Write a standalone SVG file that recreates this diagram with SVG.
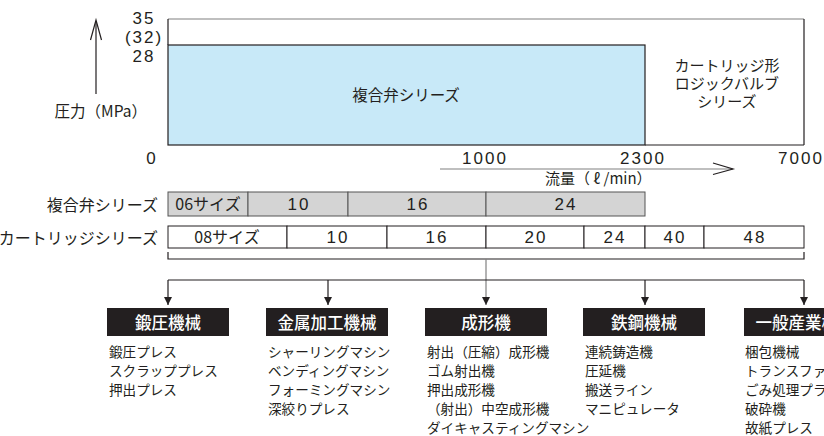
<svg xmlns="http://www.w3.org/2000/svg" width="824" height="436" viewBox="0 0 824 436">
<style>
text{font-family:"Noto Sans CJK JP","Liberation Sans",sans-serif;fill:#231f20}
.num{font-family:"Liberation Sans",Arial,sans-serif;font-size:17px;letter-spacing:2px;text-anchor:middle}
.lab{font-size:15.5px}
.cell{font-size:16px;text-anchor:middle}
.cellnum{font-family:"Liberation Sans",Arial,sans-serif;font-size:17px;letter-spacing:2px;text-anchor:middle}
.cat{font-size:16.5px;fill:#ffffff;text-anchor:middle;font-weight:500}
.item{font-size:13.6px}
.ln{stroke:#231f20;stroke-width:1.2;fill:none}
.gln{stroke:#808080;stroke-width:1.2;fill:none}
.box{fill:#231f20}
.g{fill:#d4d4d4;stroke:#555;stroke-width:1}
.w{fill:#ffffff;stroke:#231f20;stroke-width:1}
</style>
<defs>
<marker id="tri" viewBox="0 0 10 10" refX="10" refY="5" markerWidth="8" markerHeight="8" markerUnits="userSpaceOnUse" orient="auto">
<path d="M0,0 L10,5 L0,10 Z" fill="#231f20"/>
</marker>
</defs>

<g id="chart">
<rect x="168" y="19" width="636" height="126" fill="#ffffff" stroke="none"/>
<line x1="168" y1="19" x2="804" y2="19" class="gln"/>
<line x1="804" y1="19" x2="804" y2="145" class="ln"/>
<line x1="645" y1="145" x2="804" y2="145" class="ln"/>
<line x1="168" y1="19" x2="168" y2="45" class="ln"/>
<rect x="168" y="45" width="477" height="100" fill="#c8e9f8" stroke="#231f20" stroke-width="1.2"/>
<text x="406" y="101" class="lab" text-anchor="middle" font-size="16">複合弁シリーズ</text>
<text x="727" y="71" text-anchor="middle" font-size="15">カートリッジ形</text>
<text x="727" y="89" text-anchor="middle" font-size="15">ロジックバルブ</text>
<text x="727" y="107" text-anchor="middle" font-size="15">シリーズ</text>
</g>

<g id="y-axis">
<line x1="96" y1="94" x2="96" y2="21" class="ln"/>
<polyline points="90.5,40 96,20 101.5,40" class="ln"/>
<text x="147" y="117" text-anchor="end" font-size="15.5">圧力（MPa）</text>
<text x="144" y="24" class="num">35</text>
<text x="144" y="43" class="num">(32)</text>
<text x="144" y="62" class="num">28</text>
<text x="152" y="164" class="num">0</text>
</g>

<g id="x-axis">
<text x="485" y="164" class="num">1000</text>
<text x="643" y="164" class="num">2300</text>
<text x="801" y="164" class="num">7000</text>
<line x1="440" y1="169" x2="733" y2="169" class="gln"/>
<polyline points="713,163 733,169 713,174.5" class="ln"/>
<text x="545" y="184" font-size="15">流量（ ℓ /min）</text>
</g>

<g id="row-fukugoben">
<text x="158" y="211" text-anchor="end" font-size="16">複合弁シリーズ</text>
<rect x="168" y="192" width="80" height="24" class="g"/>
<rect x="248" y="192" width="100" height="24" class="g"/>
<rect x="348" y="192" width="138" height="24" class="g"/>
<rect x="486" y="192" width="159" height="24" class="g"/>
<text x="208" y="210" class="cell">06サイズ</text>
<text x="299" y="210" class="cellnum">10</text>
<text x="418" y="210" class="cellnum">16</text>
<text x="566" y="210" class="cellnum">24</text>
</g>

<g id="row-cartridge">
<text x="158" y="244" text-anchor="end" font-size="16">カートリッジシリーズ</text>
<rect x="168" y="226" width="119" height="22" class="w"/>
<rect x="287" y="226" width="100" height="22" class="w"/>
<rect x="387" y="226" width="99" height="22" class="w"/>
<rect x="486" y="226" width="98" height="22" class="w"/>
<rect x="584" y="226" width="61" height="22" class="w"/>
<rect x="645" y="226" width="59" height="22" class="w"/>
<rect x="704" y="226" width="100" height="22" class="w"/>
<text x="227" y="243" class="cell">08サイズ</text>
<text x="338" y="243" class="cellnum">10</text>
<text x="437" y="243" class="cellnum">16</text>
<text x="536" y="243" class="cellnum">20</text>
<text x="615" y="243" class="cellnum">24</text>
<text x="675" y="243" class="cellnum">40</text>
<text x="755" y="243" class="cellnum">48</text>
</g>

<g id="connectors">
<polyline points="168,252 168,259 804,259 804,252" class="ln"/>
<line x1="486" y1="259" x2="486" y2="305" class="gln" marker-end="url(#tri)"/>
<line x1="168" y1="280" x2="804" y2="280" class="ln"/>
<line x1="168" y1="280" x2="168" y2="305" class="ln" marker-end="url(#tri)"/>
<line x1="328" y1="280" x2="328" y2="305" class="ln" marker-end="url(#tri)"/>
<line x1="645" y1="280" x2="645" y2="305" class="ln" marker-end="url(#tri)"/>
<line x1="804" y1="280" x2="804" y2="305" class="ln" marker-end="url(#tri)"/>
</g>

<g id="cat-tanatsu">
<rect x="107" y="308" width="122" height="28" class="box"/>
<text x="168" y="329" class="cat">鍛圧機械</text>
<text x="109" y="357" class="item">鍛圧プレス</text>
<text x="109" y="376" class="item">スクラッププレス</text>
<text x="109" y="395" class="item">押出プレス</text>
</g>

<g id="cat-kinzoku">
<rect x="266" y="308" width="122" height="28" class="box"/>
<text x="327" y="329" class="cat">金属加工機械</text>
<text x="268" y="357" class="item">シャーリングマシン</text>
<text x="268" y="376" class="item">ベンディングマシン</text>
<text x="268" y="395" class="item">フォーミングマシン</text>
<text x="268" y="414" class="item">深絞りプレス</text>
</g>

<g id="cat-seikei">
<rect x="425" y="308" width="122" height="28" class="box"/>
<text x="486" y="329" class="cat">成形機</text>
<text x="427" y="357" class="item">射出（圧縮）成形機</text>
<text x="427" y="376" class="item">ゴム射出機</text>
<text x="427" y="395" class="item">押出成形機</text>
<text x="427" y="414" class="item">（射出）中空成形機</text>
<text x="427" y="433" class="item">ダイキャスティングマシン</text>
</g>

<g id="cat-tekko">
<rect x="583" y="308" width="122" height="28" class="box"/>
<text x="644" y="329" class="cat">鉄鋼機械</text>
<text x="585" y="357" class="item">連続鋳造機</text>
<text x="585" y="376" class="item">圧延機</text>
<text x="585" y="395" class="item">搬送ライン</text>
<text x="585" y="414" class="item">マニピュレータ</text>
</g>

<g id="cat-ippan">
<rect x="744" y="308" width="122" height="28" class="box"/>
<text x="805" y="329" class="cat">一般産業機械</text>
<text x="745" y="357" class="item">梱包機械</text>
<text x="745" y="376" class="item">トランスファマシン</text>
<text x="745" y="395" class="item">ごみ処理プラント</text>
<text x="745" y="414" class="item">破砕機</text>
<text x="745" y="433" class="item">故紙プレス</text>
</g>
</svg>
